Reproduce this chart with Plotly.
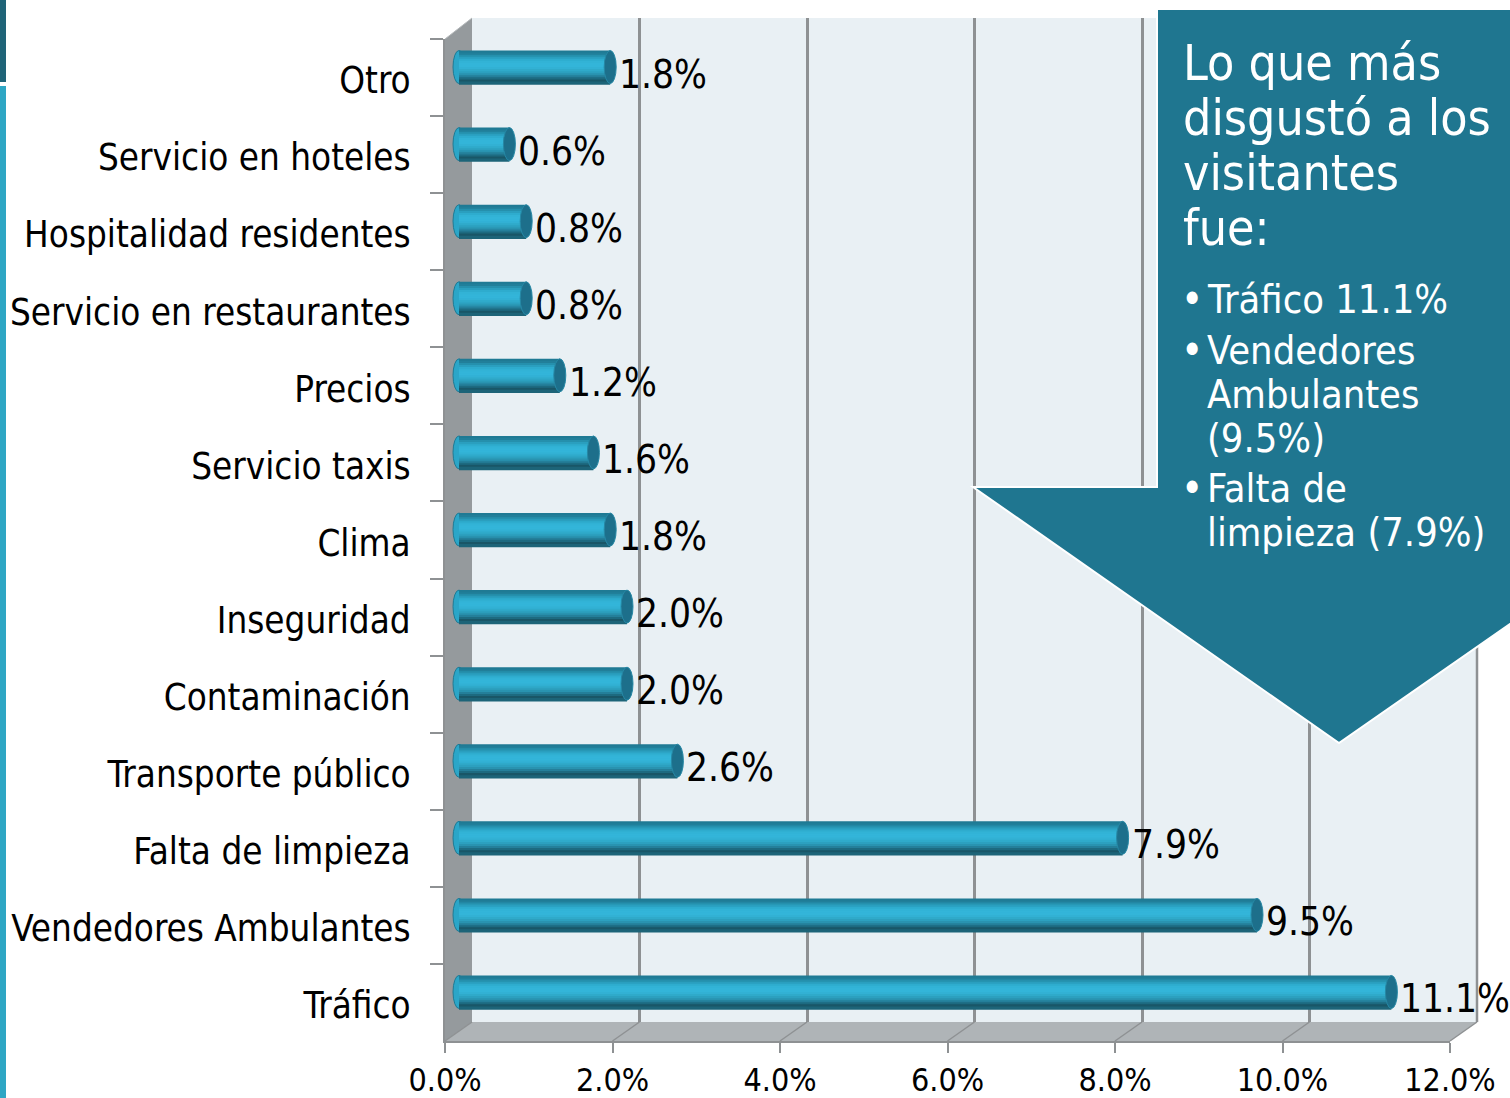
import plotly.graph_objects as go

categories = ["Otro", "Servicio en hoteles", "Hospitalidad residentes", "Servicio en restaurantes",
              "Precios", "Servicio taxis", "Clima", "Inseguridad", "Contaminación",
              "Transporte público", "Falta de limpieza", "Vendedores Ambulantes", "Tráfico"]
values = [1.8, 0.6, 0.8, 0.8, 1.2, 1.6, 1.8, 2.0, 2.0, 2.6, 7.9, 9.5, 11.1]
x_ticks = [0, 2, 4, 6, 8, 10, 12]
x_ticktext = ["0.0%", "2.0%", "4.0%", "6.0%", "8.0%", "10.0%", "12.0%"]
title_lines = ["Lo que más", "disgustó a los", "visitantes", "fue:"]
bullet_lines = [("Tráfico 11.1%", 299, True), ("Vendedores", 350, True), ("Ambulantes", 394, False),
                ("(9.5%)", 438, False), ("Falta de", 488, True), ("limpieza (7.9%)", 532, False)]

W, H = 1510, 1098
FONT = "DejaVu Sans Condensed, DejaVu Sans"
GRID = "#8e9193"
TEAL = "#1f7690"
stripe_colors = ["#1f7a94", "#217f9a", "#2590ad", "#2a9fbf", "#2eacce", "#32b3d6", "#33b5d9", "#33b5d9",
                 "#32b1d4", "#2faaca", "#2ca0bf", "#2993b0", "#247f9a", "#1d6a80", "#195667", "#1d6478"]
BAR_PX = 33.0
BAND_PX = 1002 / 13


def px(x):
    return x / W


def py(y):
    return 1 - y / H


def poly(points, fill, line=None, width=0, layer="below"):
    d = "M " + " L ".join(f"{px(a):.5f},{py(b):.5f}" for a, b in points) + " Z"
    return dict(type="path", path=d, xref="paper", yref="paper", fillcolor=fill, layer=layer,
                line=dict(color=line or fill, width=width))


def seg(x0, y0, x1, y1, color=GRID, width=2, layer="below"):
    return dict(type="line", xref="paper", yref="paper", x0=px(x0), y0=py(y0), x1=px(x1), y1=py(y1),
                layer=layer, line=dict(color=color, width=width))


shapes = [
    # page stripe
    poly([(0, 0), (6, 0), (6, 82), (0, 82)], "#1f6478"),
    poly([(0, 86), (6, 86), (6, 1098), (0, 1098)], "#2ea6c4"),
    # 3D box
    poly([(472, 18), (1477, 18), (1477, 1022), (472, 1022)], "#e9f0f4"),
    poly([(445, 39), (472, 18), (472, 1022), (445, 1041)], "#959a9d"),
    poly([(445, 1041), (472, 1022), (1477, 1022), (1450, 1041)], "#afb4b7"),
    seg(445, 39, 472, 18, "#b5b9bb", 1),
    seg(1477, 18, 1477, 1022, GRID, 2.5),
]
for t in x_ticks:
    fx = 445 + t * 1005 / 12
    shapes.append(seg(fx, 1041, fx + 27, 1022, GRID, 1.5))

half_h = BAR_PX / 2 / BAND_PX
unit = 12 / 1008
for i, v in enumerate(values):
    shapes.append(dict(type="circle", xref="x3", yref="y3", layer="below",
                       x0=-6 * unit, x1=6 * unit, y0=i - half_h, y1=i + half_h,
                       fillcolor="#2ba6c8", line=dict(color="#1f7a94", width=1)))
    shapes.append(dict(type="circle", xref="x3", yref="y3", layer="above",
                       x0=v - 6 * unit, x1=v + 6 * unit, y0=i - half_h, y1=i + half_h,
                       fillcolor="#1d6f8b", line=dict(color="#2688a5", width=1)))

# callout arrow
shapes.append(poly([(1157, 9), (1520, 9), (1520, 617), (1339, 743), (973, 487), (1157, 487)],
                   TEAL, "#ffffff", 2, layer="above"))

fig = go.Figure()
# front axes (carry category labels and ticks)
fig.add_trace(go.Bar(x=values, y=categories, orientation="h", xaxis="x", yaxis="y",
                     marker=dict(opacity=0), hoverinfo="skip", showlegend=False))
# back wall grid
fig.add_trace(go.Scatter(x=[0], y=[0], xaxis="x2", yaxis="y2", mode="markers",
                         marker=dict(opacity=0), hoverinfo="skip", showlegend=False))
# bars: stacked stripes that give the cylinder shading
n = len(stripe_colors)
sw = BAR_PX / n / BAND_PX
for k, col in enumerate(stripe_colors):
    fig.add_trace(go.Bar(x=values, y=categories, orientation="h", xaxis="x3", yaxis="y3",
                         width=sw * 1.6, offset=-half_h + k * sw if k < n - 1 else half_h - sw * 1.0,
                         marker=dict(color=col, line=dict(width=0)),
                         hoverinfo="skip", showlegend=False))

annotations = []
for c, v in zip(categories, values):
    annotations.append(dict(x=v, y=c, xref="x3", yref="y3", text=f"{v:.1f}%", showarrow=False,
                            xanchor="left", yanchor="middle", xshift=7, yshift=-7,
                            font=dict(family=FONT, size=38.5, color="#000000")))
for i, line in enumerate(title_lines):
    annotations.append(dict(x=px(1181), y=py(63 + i * 55), xref="paper", yref="paper", text=line,
                            showarrow=False, xanchor="left", yanchor="middle",
                            font=dict(family=FONT, size=49.7, color="#ffffff")))
for line, y, bullet in bullet_lines:
    annotations.append(dict(x=px(1205), y=py(y), xref="paper", yref="paper", text=line,
                            showarrow=False, xanchor="left", yanchor="middle",
                            font=dict(family=FONT, size=39.5, color="#ffffff")))
    if bullet:
        annotations.append(dict(x=px(1192), y=py(y), xref="paper", yref="paper", text="•",
                                showarrow=False, xanchor="center", yanchor="middle",
                                font=dict(family=FONT, size=42, color="#ffffff")))

hidden = dict(visible=False, showgrid=False, zeroline=False, automargin=False)
fig.update_layout(
    template="none",
    width=W, height=H, margin=dict(l=0, r=0, t=0, b=0, pad=0), autosize=False,
    paper_bgcolor="#ffffff", plot_bgcolor="rgba(0,0,0,0)", barmode="overlay", showlegend=False,
    shapes=shapes, annotations=annotations,
    xaxis=dict(domain=[px(445), px(1450)], range=[0, 12], tickvals=x_ticks, ticktext=x_ticktext,
               ticks="outside", ticklen=10, tickwidth=1.5, tickcolor=GRID, showline=True, automargin=False,
               linecolor=GRID, linewidth=2, showgrid=False, zeroline=False, anchor="y",
               tickfont=dict(family=FONT, size=32, color="#000000")),
    yaxis=dict(domain=[py(1041), py(39)], type="category", categoryorder="array", categoryarray=categories,
               range=[12.5, -0.5], tickson="boundaries", ticks="outside", ticklen=13, tickwidth=1.5,
               tickcolor=GRID, ticklabelstandoff=25, ticklabelshift=-3, showline=True, linecolor=GRID, linewidth=2,
               automargin=False, showgrid=False, zeroline=False, anchor="x",
               tickfont=dict(family=FONT, size=36.5, color="#000000")),
    xaxis2=dict(domain=[px(472), px(1477)], range=[0, 12], tickvals=x_ticks, showticklabels=False, automargin=False,
                showgrid=True, gridcolor=GRID, gridwidth=2.5, zeroline=False, showline=False, ticks="", anchor="y2"),
    yaxis2=dict(domain=[py(1022), py(18)], range=[0, 1], anchor="x2", **hidden),
    # left end extended by 13 px so the rounded base of each bar is not clipped
    xaxis3=dict(domain=[px(446), px(1467)], range=[-13 * unit, 12], anchor="y3", **hidden),
    yaxis3=dict(domain=[py(1030.5), py(28.5)], type="category", categoryorder="array", categoryarray=categories,
                range=[12.5, -0.5], anchor="x3", **hidden),
)
fig.write_html("out.html", config=dict(displayModeBar=False),
               post_script="document.body.style.margin='0';document.body.style.overflow='hidden';")
